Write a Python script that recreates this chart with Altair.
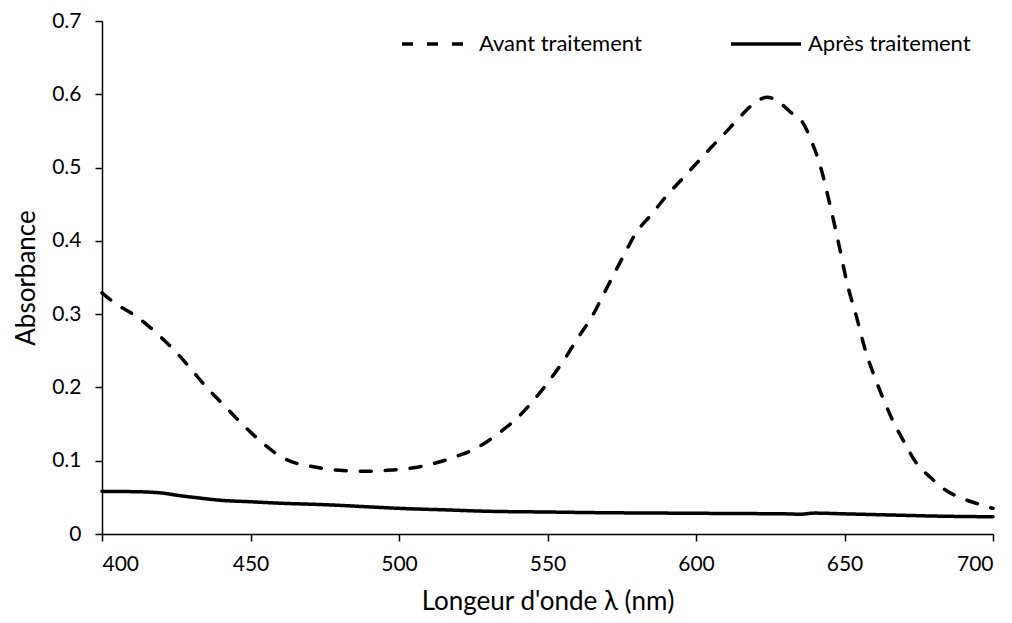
import altair as alt
import pandas as pd

# Wavelengths (nm) and absorbance
avant_nm = [400, 405, 410, 415, 420, 425, 430, 435, 440, 445, 450, 455, 460, 465, 470,
            475, 480, 485, 490, 495, 500, 505, 510, 515, 520, 525, 530, 535, 540, 545,
            550, 555, 560, 565, 570, 575, 580, 585, 590, 595, 600, 605, 610, 615, 620,
            624, 628, 632, 636, 639, 642, 645, 648, 651, 654, 657, 660, 663, 666, 670,
            674, 679, 684, 690, 695, 700]
avant_abs = [0.329, 0.313, 0.301, 0.286, 0.268, 0.248, 0.225, 0.201, 0.180, 0.159, 0.139,
             0.121, 0.106, 0.097, 0.0925, 0.089, 0.087, 0.0858, 0.0855, 0.0866, 0.088,
             0.0905, 0.0945, 0.100, 0.107, 0.115, 0.127, 0.142, 0.159, 0.181, 0.206,
             0.234, 0.266, 0.297, 0.336, 0.375, 0.412, 0.436, 0.461, 0.483, 0.505, 0.527,
             0.548, 0.570, 0.589, 0.596, 0.589, 0.575, 0.561, 0.535, 0.500, 0.451, 0.397,
             0.340, 0.297, 0.251, 0.216, 0.185, 0.157, 0.126, 0.098, 0.077, 0.060, 0.048,
             0.041, 0.035]

apres_nm = [400, 410, 420, 425, 433, 440, 450, 460, 475, 490, 500, 515, 530, 550, 570,
            590, 610, 630, 635, 640, 650, 665, 680, 700]
apres_abs = [0.058, 0.0578, 0.056, 0.053, 0.049, 0.046, 0.044, 0.042, 0.040, 0.037, 0.035,
             0.033, 0.031, 0.030, 0.029, 0.0285, 0.028, 0.0275, 0.027, 0.0285, 0.0275,
             0.026, 0.0245, 0.0235]

series_names = ["Avant traitement", "Après traitement"]
x_ticks = [400, 450, 500, 550, 600, 650, 700]
y_ticks = [0, 0.1, 0.2, 0.3, 0.4, 0.5, 0.6, 0.7]

df = pd.concat([
    pd.DataFrame({"nm": avant_nm, "abs": avant_abs, "serie": series_names[0], "ord": 0}),
    pd.DataFrame({"nm": apres_nm, "abs": apres_abs, "serie": series_names[1], "ord": 1}),
])

FONT = "Lato"

chart = alt.Chart(df).mark_line(
    color="black", strokeWidth=3.5, strokeCap="round", interpolate="monotone"
).encode(
    x=alt.X("nm:Q",
            scale=alt.Scale(domain=[400, 700], nice=False, zero=False),
            axis=alt.Axis(values=x_ticks, title="Longeur d'onde λ (nm)", grid=False,
                          format="d", labelPadding=12, titlePadding=14)),
    y=alt.Y("abs:Q",
            scale=alt.Scale(domain=[0, 0.7], nice=False),
            axis=alt.Axis(values=y_ticks, title="Absorbance", grid=False,
                          labelExpr="datum.value == 0 ? '0' : format(datum.value, '.1f')",
                          labelPadding=14, titlePadding=12)),
    strokeDash=alt.StrokeDash(
        "serie:N",
        scale=alt.Scale(domain=series_names, range=[[11, 14], [1, 0]]),
        legend=alt.Legend(
            title=None, orient="none", direction="horizontal",
            legendX=298, legendY=-14, symbolType="stroke", symbolSize=4900,
            symbolStrokeWidth=3.5, symbolStrokeColor="black", columnPadding=82,
            labelOffset=5, labelFontSize=22, labelFont=FONT, labelColor="black",
            labelLimit=0, padding=0
        )),
    order="ord:Q",
).properties(
    width=891, height=513,
    padding={"left": 94, "top": 13, "right": 10, "bottom": 84},
    autosize=alt.AutoSizeParams(type="none"),
).configure_view(
    stroke=None
).configure_axis(
    domainColor="black", domainWidth=1.5, tickColor="black", tickWidth=1.5, tickSize=7,
    labelFont=FONT, labelFontSize=21, labelColor="black",
    titleFont=FONT, titleFontSize=26, titleFontWeight="normal", titleColor="black",
)

chart.save("out.html", embed_options={"renderer": "svg", "actions": False})
